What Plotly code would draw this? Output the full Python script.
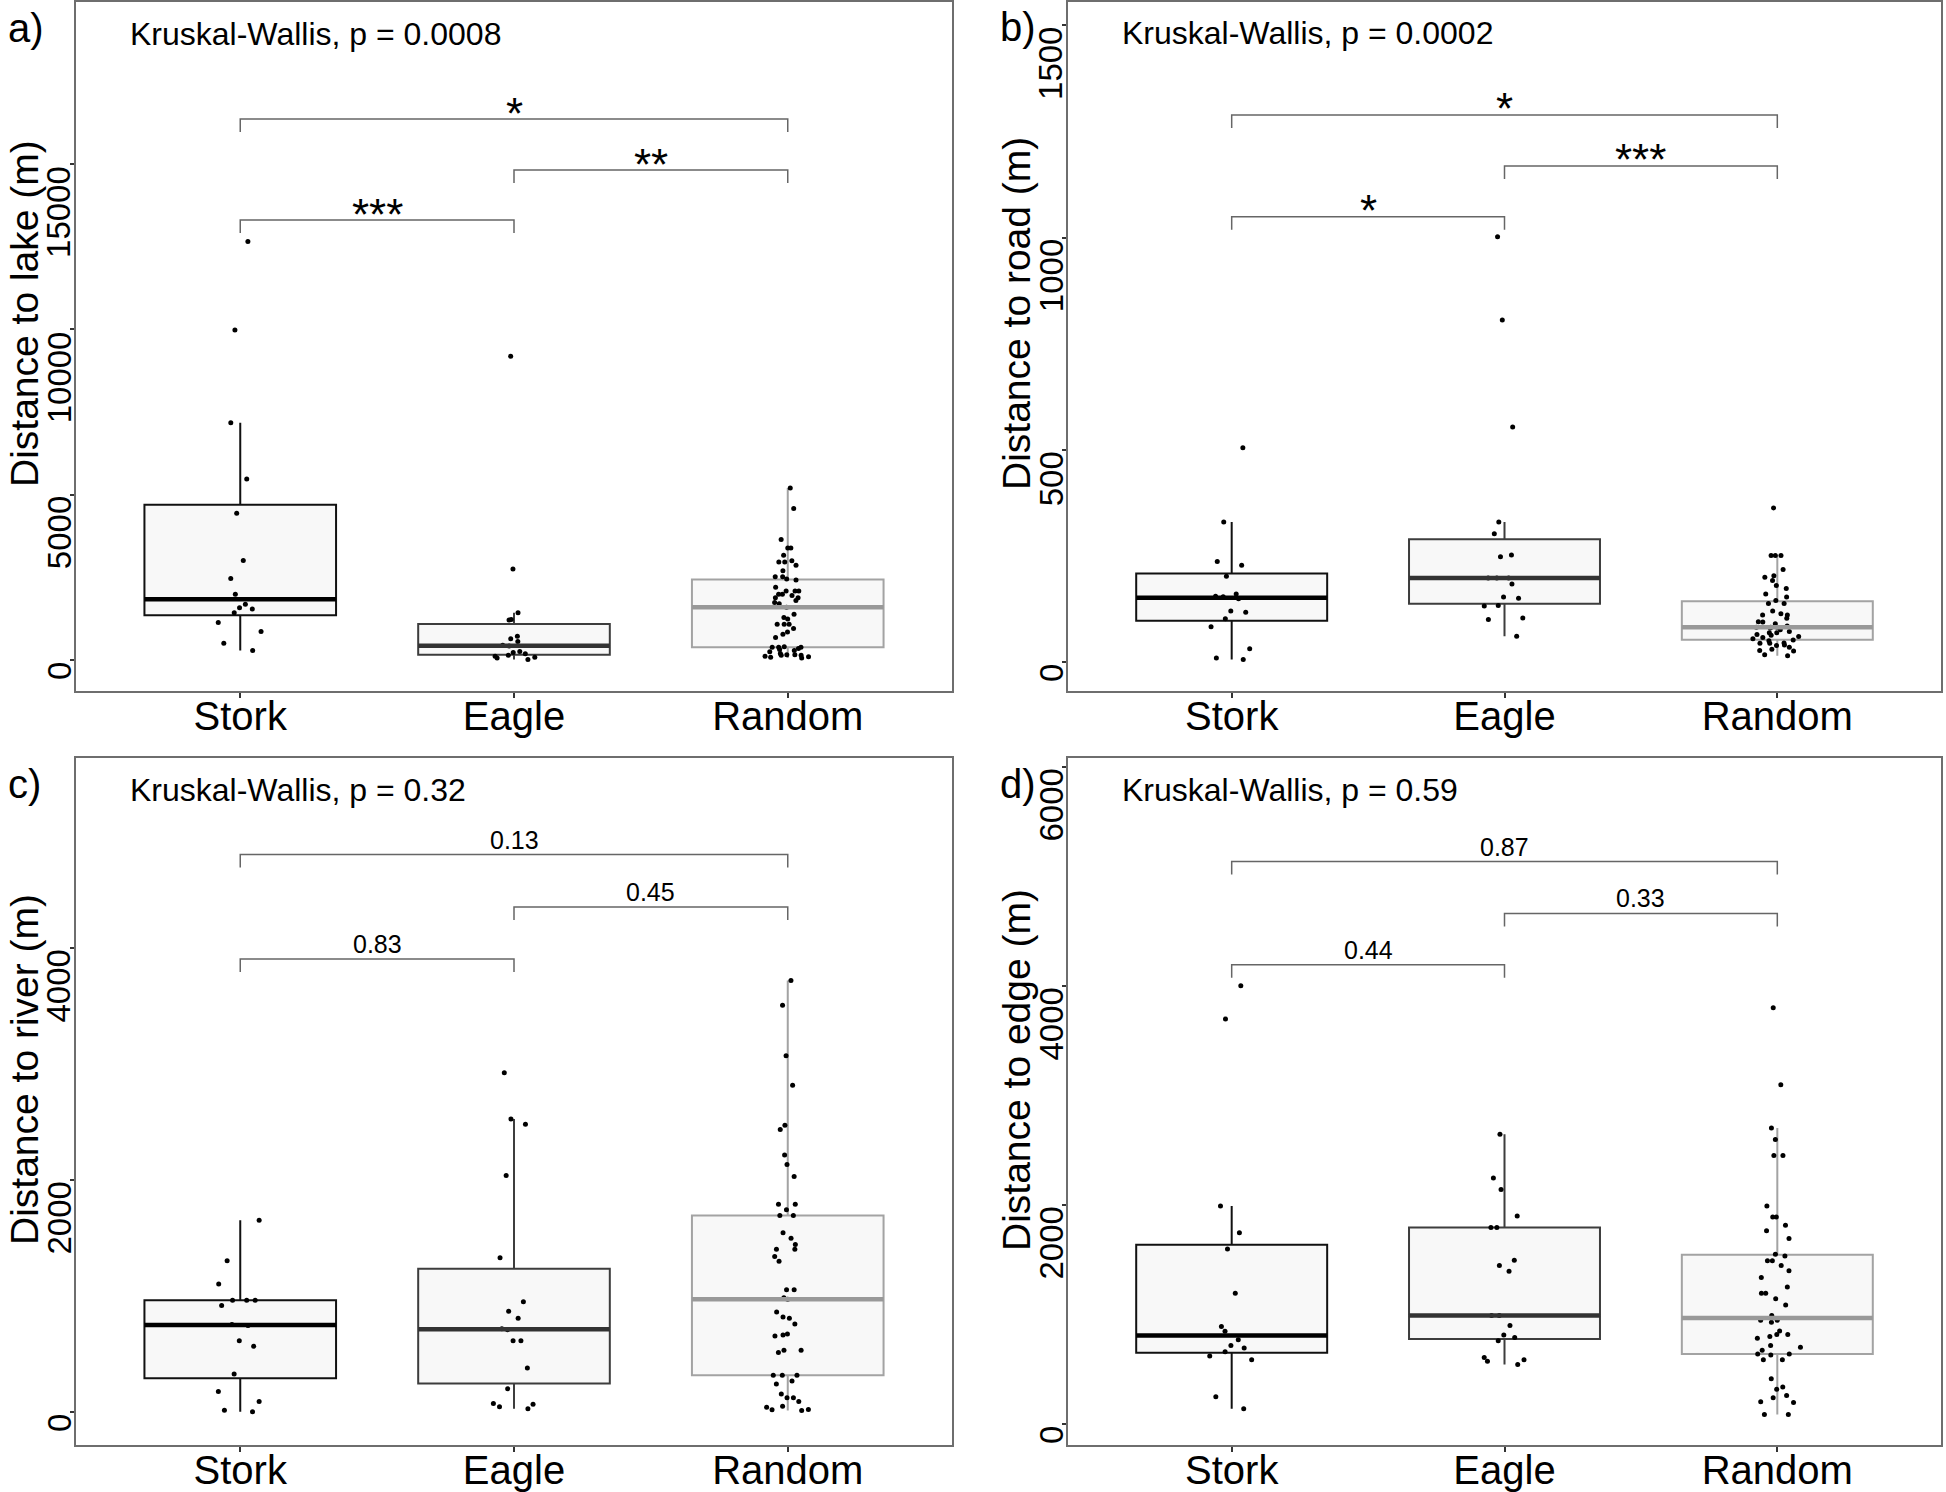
import numpy as np
import plotly.graph_objects as go

W, H = 1946, 1492
FONT = "Liberation Sans, Arial, sans-serif"

# ---------------- data ----------------
groups = ["Stork", "Eagle", "Random"]

lake_stork = [12658, 9979, 7171, 5472, 4435, 3010, 2462, 1987, 1584, 1685, 1541, 1426, 1138, 864, 504, 288]
lake_eagle = [9187, 2750, 1426, 1224, 1210, 720, 640, 560, 446, 420, 260, 230, 190, 144, 115, 86, 58, 14]
lake_random = [5198, 4579, 3643, 3384, 3384, 3168, 3000, 2966, 2966, 2866, 2700, 2520, 2520, 2450, 2419,
               2200, 2088, 2088, 2088, 1987, 1987, 1950, 1886, 1886, 1800, 1742, 1700, 1598, 1382, 1282,
               1238, 1080, 1080, 1080, 950, 850, 778, 677, 400, 389, 389, 389, 346, 320, 288, 250, 200,
               158, 158, 144, 144, 115, 100, 86, 60]

road_stork = [505, 330, 237, 228, 202, 160, 155, 154, 149, 120, 117, 102, 83, 31, 9.5, 6]
road_eagle = [1002, 806, 554, 330, 302, 252, 248, 198, 198, 198, 184, 153, 150, 133, 132, 104, 100, 61]
road_random = [363, 251, 251, 251, 218, 203, 200, 192, 180, 173, 160, 153, 145, 138, 138, 120, 114, 111,
               111, 103, 95, 94, 90, 85, 82, 82, 82, 80, 76, 72, 69, 69, 65, 63, 60, 58, 55, 52, 50, 45,
               44, 44, 40, 39, 35, 30, 27, 26, 17, 15]

river_stork = [1653, 1304, 1103, 964, 964, 964, 919, 755, 746, 615, 566, 328, 176, 90, 15, 3]
river_eagle = [2924, 2526, 2481, 2038, 1330, 951, 869, 808, 718, 710, 615, 615, 380, 200, 74, 66, 45, 29]
river_random = [3720, 3506, 3072, 2817, 2473, 2436, 2215, 2133, 2030, 1792, 1792, 1743, 1694, 1694, 1546,
                1497, 1444, 1403, 1403, 1341, 1300, 1054, 1054, 984, 972, 861, 820, 808, 759, 673, 664,
                656, 533, 533, 513, 316, 316, 316, 267, 242, 156, 123, 123, 90, 49, 41, 21, 20, 12]

edge_stork = [4002, 3698, 1990, 1747, 1599, 1195, 891, 847, 769, 717, 695, 660, 621, 587, 248, 139]
edge_eagle = [2646, 2246, 2142, 1899, 1794, 1794, 1495, 1447, 1395, 991, 991, 899, 813, 791, 760, 608,
              587, 574, 543]
edge_random = [3802, 3098, 2703, 2598, 2451, 2451, 1990, 1890, 1890, 1816, 1764, 1695, 1550, 1534, 1490,
               1490, 1447, 1400, 1338, 1250, 1195, 1195, 1143, 1086, 991, 947, 947, 930, 850, 817, 817,
               800, 782, 717, 700, 673, 639, 639, 630, 587, 587, 413, 339, 317, 261, 239, 204, 196, 87, 87]

lake_ticks = [0, 5000, 10000, 15000]
road_ticks = [0, 500, 1000, 1500]
river_ticks = [0, 2000, 4000]
edge_ticks = [0, 2000, 4000, 6000]

lake_tests = [("Stork", "Random", "*"), ("Eagle", "Random", "**"), ("Stork", "Eagle", "***")]
road_tests = [("Stork", "Random", "*"), ("Eagle", "Random", "***"), ("Stork", "Eagle", "*")]
river_tests = [("Stork", "Random", "0.13"), ("Eagle", "Random", "0.45"), ("Stork", "Eagle", "0.83")]
edge_tests = [("Stork", "Random", "0.87"), ("Eagle", "Random", "0.33"), ("Stork", "Eagle", "0.44")]

kw_texts = ["Kruskal-Wallis, p = 0.0008", "Kruskal-Wallis, p = 0.0002",
            "Kruskal-Wallis, p = 0.32", "Kruskal-Wallis, p = 0.59"]
y_titles = ["Distance to lake (m)", "Distance to road (m)", "Distance to river (m)", "Distance to edge (m)"]
letters = ["a)", "b)", "c)", "d)"]

# ---------------- layout / style (pixels of the 1946x1492 canvas) ----------------
panels = [
    dict(data=[lake_stork, lake_eagle, lake_random], ticks=lake_ticks, tests=lake_tests,
         left=76, right=952, top=2, bottom=691, yrange=[-937, 19897],
         bracket_y=[16359, 14817, 13305], title_y=314),
    dict(data=[road_stork, road_eagle, road_random], ticks=road_ticks, tests=road_tests,
         left=1068, right=1941, top=1.5, bottom=691, yrange=[-68.3, 1556.4],
         bracket_y=[1289, 1169, 1049], title_y=314),
    dict(data=[river_stork, river_eagle, river_random], ticks=river_ticks, tests=river_tests,
         left=76, right=952, top=758, bottom=1445, yrange=[-284.5, 5638],
         bracket_y=[4806, 4353, 3905], title_y=1070),
    dict(data=[edge_stork, edge_eagle, edge_random], ticks=edge_ticks, tests=edge_tests,
         left=1068, right=1941, top=758, bottom=1445, yrange=[-191.8, 6082],
         bracket_y=[5136, 4662, 4194], title_y=1070),
]

box_line = ["#111111", "#3d3d3d", "#a3a3a3"]
median_col = ["#000000", "#333333", "#999999"]
box_fill = "#f8f8f8"
border_col = "#6e6e6e"
BOX_W = 0.7


def px_x(p):
    return p / W


def px_y(p):
    return 1 - p / H


def tukey_stats(vals):
    """ggplot2-style box statistics (quantile type 7, whiskers at 1.5 IQR)."""
    v = np.asarray(vals, dtype=float)
    q1, med, q3 = np.percentile(v, [25, 50, 75])
    iqr = q3 - q1
    lf = v[v >= q1 - 1.5 * iqr].min()
    uf = v[v <= q3 + 1.5 * iqr].max()
    return q1, med, q3, lf, uf


fig = go.Figure()
annotations = []
shapes = []

for k, P in enumerate(panels):
    sfx = "" if k == 0 else str(k + 1)
    xa, ya = "x" + sfx, "y" + sfx
    pos = {g: i + 1 for i, g in enumerate(groups)}

    # boxes (statistics computed from the data)
    for i, (g, vals) in enumerate(zip(groups, P["data"])):
        q1, med, q3, lf, uf = tukey_stats(vals)
        fig.add_trace(go.Box(
            x=[pos[g]], q1=[q1], median=[med], q3=[q3], lowerfence=[lf], upperfence=[uf],
            xaxis=xa, yaxis=ya, width=BOX_W, boxpoints=False,
            fillcolor=box_fill, whiskerwidth=0,
            line=dict(color=box_line[i], width=2), showlegend=False, hoverinfo="skip"))
    # thicker median lines
    for i, (g, vals) in enumerate(zip(groups, P["data"])):
        med = float(np.median(vals))
        fig.add_trace(go.Scatter(
            x=[pos[g] - BOX_W / 2, pos[g] + BOX_W / 2], y=[med, med], xaxis=xa, yaxis=ya,
            mode="lines", line=dict(color=median_col[i], width=4.5), showlegend=False,
            hoverinfo="skip"))
    # jittered points (invisible box, only the sample points are drawn)
    for i, (g, vals) in enumerate(zip(groups, P["data"])):
        fig.add_trace(go.Box(
            x=[pos[g]] * len(vals), y=vals, xaxis=xa, yaxis=ya, width=BOX_W,
            boxpoints="all", jitter=0.28, pointpos=0, whiskerwidth=0,
            fillcolor="rgba(0,0,0,0)", line=dict(color="rgba(0,0,0,0)", width=0),
            marker=dict(color="black", size=5), showlegend=False, hoverinfo="skip"))

    xd = [px_x(P["left"]), px_x(P["right"])]
    yd = [px_y(P["bottom"]), px_y(P["top"])]
    axis_common = dict(showline=True, mirror=True, linecolor=border_col, linewidth=1.5,
                       showgrid=False, zeroline=False, ticks="outside", tickcolor="#333333",
                       tickwidth=1.5)
    fig.update_layout(**{
        "xaxis" + sfx: dict(domain=xd, anchor=ya, range=[0.4, 3.6], tickvals=[1, 2, 3],
                            ticktext=groups, ticklen=5, ticklabelstandoff=-16,
                            tickfont=dict(size=40, color="#000000", family=FONT), **axis_common),
        "yaxis" + sfx: dict(domain=yd, anchor=xa, range=P["yrange"], tickvals=P["ticks"],
                            ticklen=4, showticklabels=False, **axis_common),
    })

    yspan = P["yrange"][1] - P["yrange"][0]
    upp = yspan / (P["bottom"] - P["top"])  # data units per pixel

    # rotated y tick labels (end of text at the tick)
    lab_x = P["left"] - 17
    for t in P["ticks"]:
        annotations.append(dict(
            xref="paper", yref=ya, x=px_x(lab_x), y=t, text=f"{t}", showarrow=False,
            textangle=-90, xanchor="center", yanchor="top",
            font=dict(size=33, color="#000000", family=FONT)))

    # y title
    annotations.append(dict(
        xref="paper", yref="paper", x=px_x(P["left"] - 52), y=px_y(P["title_y"]),
        text=y_titles[k], showarrow=False, textangle=-90, xanchor="center", yanchor="middle",
        font=dict(size=39, color="#000000", family=FONT)))

    # panel letter
    annotations.append(dict(
        xref="paper", yref="paper", x=px_x(P["left"] - 70), y=px_y(P["top"] + 26),
        text=letters[k], showarrow=False, xanchor="left", yanchor="middle",
        font=dict(size=40, color="#000000", family=FONT)))

    # Kruskal-Wallis text
    annotations.append(dict(
        xref="paper", yref="paper", x=px_x(P["left"] + 52), y=px_y(P["top"] + 32),
        text=kw_texts[k], showarrow=False, xanchor="left", yanchor="middle",
        font=dict(size=32, color="#000000", family=FONT)))

    # significance brackets
    tip = 13 * upp
    for (g1, g2, lab), by in zip(P["tests"], P["bracket_y"]):
        x1, x2 = pos[g1], pos[g2]
        shapes.append(dict(
            type="path", xref=xa, yref=ya,
            path=f"M {x1},{by - tip} L {x1},{by} L {x2},{by} L {x2},{by - tip}",
            line=dict(color="#666666", width=1.5)))
        is_star = lab.startswith("*")
        annotations.append(dict(
            xref=xa, yref=ya, x=(x1 + x2) / 2, y=by, text=lab, showarrow=False,
            xanchor="center", yanchor="middle", yshift=6 if is_star else 15,
            font=dict(size=44 if is_star else 25, color="#000000", family=FONT)))

fig.update_layout(
    width=W, height=H, margin=dict(l=0, r=0, t=0, b=0),
    paper_bgcolor="white", plot_bgcolor="white", boxmode="overlay",
    font=dict(family=FONT, color="#000000"),
    annotations=annotations, shapes=shapes, showlegend=False,
)

fig.write_html("out.html", config={"displayModeBar": False},
               post_script="document.body.style.margin='0px';document.body.style.padding='0px';")
